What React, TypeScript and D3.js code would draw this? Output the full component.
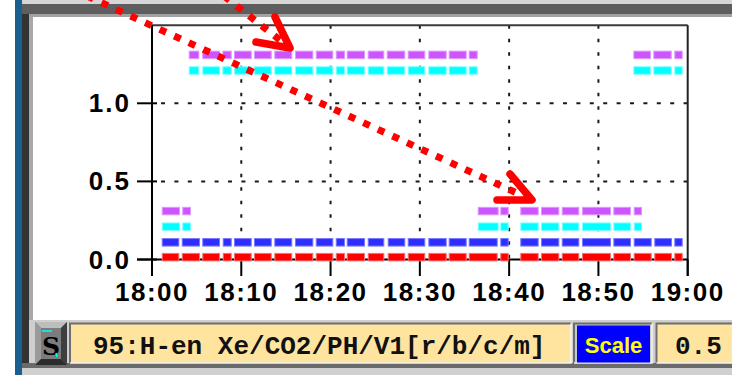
import React from "react";
import * as d3 from "d3";

// Sample intervals (minutes after 18:00) for the base channels (r / b)
const baseIntervals: [number, number][] = [
  [1.09, 3.06], [3.33, 5.38], [5.63, 7.62], [7.92, 8.93], [9.18, 11.17],
  [11.42, 13.41], [13.7, 15.71], [16.02, 18.07], [18.34, 20.31], [20.58, 21.62],
  [21.81, 23.86], [24.16, 26.02], [26.4, 28.37], [28.64, 30.61], [30.95, 33.01],
  [33.23, 35.25], [35.47, 38.72], [39.01, 39.95], [41.25, 43.31], [43.57, 45.62],
  [45.89, 47.86], [48.16, 51.41], [51.67, 53.65], [53.95, 55.97], [56.26, 58.24],
  [58.5, 59.44],
];

// Intervals where the c / m channels sit at their low level
const lowIntervals: [number, number][] = [
  [1.09, 3.14], [3.39, 4.37], [36.48, 38.83], [39.01, 39.95], [41.25, 43.31],
  [43.57, 45.62], [45.89, 47.86], [48.16, 51.41], [51.67, 53.65], [53.95, 54.88],
];

// Intervals where the c / m channels sit at their high level
const highIntervals: [number, number][] = [
  [4.11, 5.3], [5.63, 7.62], [7.88, 8.93], [9.18, 11.17], [11.42, 13.41],
  [13.7, 15.71], [16.02, 18.07], [18.34, 20.31], [20.58, 21.62], [21.81, 23.86],
  [24.16, 26.02], [26.29, 28.37], [28.64, 30.61], [30.95, 33.01], [33.23, 35.25],
  [35.47, 36.48], [53.91, 55.89], [56.15, 58.21], [58.5, 59.44],
];

// Channel levels
const redLevel = 0.015;
const blueLevel = 0.11;
const cyanLevels = [0.21, 1.21];
const magentaLevels = [0.31, 1.31];

const xTickMinutes = [0, 10, 20, 30, 40, 50, 60];
const xTickLabels = ["18:00", "18:10", "18:20", "18:30", "18:40", "18:50", "19:00"];
const yTickValues = [0, 0.5, 1.0];
const yTickLabels = ["0.0", "0.5", "1.0"];

const statusText = "95:H-en Xe/CO2/PH/V1[r/b/c/m]";
const scaleLabel = "Scale";
const scaleValue = "0.5";

const W = 732;
const H = 375;
const PLOT = { left: 152, right: 687.7, top: 25.2, bottom: 259.5 };

type Track = { key: string; fill: string; edge: string; level: number; intervals: [number, number][] };

const tracks: Track[] = [
  { key: "r", fill: "#ff0000", edge: "#ff7070", level: redLevel, intervals: baseIntervals },
  { key: "b", fill: "#2e2eff", edge: "#7878ff", level: blueLevel, intervals: baseIntervals },
  { key: "c-lo", fill: "#00ffff", edge: "#80ffff", level: cyanLevels[0], intervals: lowIntervals },
  { key: "c-hi", fill: "#00ffff", edge: "#80ffff", level: cyanLevels[1], intervals: highIntervals },
  { key: "m-lo", fill: "#cc55ff", edge: "#de99ff", level: magentaLevels[0], intervals: lowIntervals },
  { key: "m-hi", fill: "#cc55ff", edge: "#de99ff", level: magentaLevels[1], intervals: highIntervals },
];

function Arrow({ x0, y0, tip, armA, armB }: { x0: number; y0: number; tip: [number, number]; armA: [number, number]; armB: [number, number] }) {
  const dx = tip[0] - x0;
  const dy = tip[1] - y0;
  const len = Math.hypot(dx, dy);
  const ex = x0 + (dx * (len - 6)) / len;
  const ey = y0 + (dy * (len - 6)) / len;
  return (
    <g>
      <line x1={x0} y1={y0} x2={ex} y2={ey} stroke="#ff0000" strokeWidth={7} strokeDasharray="7 9" />
      <path
        d={`M${armA[0]},${armA[1]} L${tip[0]},${tip[1]} L${armB[0]},${armB[1]}`}
        fill="none"
        stroke="#ff0000"
        strokeWidth={7.5}
        strokeLinecap="round"
        strokeLinejoin="round"
      />
    </g>
  );
}

function Sunken({ x, y, w, h, fill }: { x: number; y: number; w: number; h: number; fill: string }) {
  return (
    <g>
      <rect x={x} y={y} width={w} height={h} fill={fill} />
      <path d={`M${x},${y + h} V${y} H${x + w}`} fill="none" stroke="#6e6e6e" strokeWidth={2} />
      <path d={`M${x},${y + h} H${x + w} V${y}`} fill="none" stroke="#f4f4f4" strokeWidth={1.5} />
    </g>
  );
}

export default function App() {
  const x = d3.scaleLinear().domain([0, 60]).range([PLOT.left, PLOT.right]);
  const y = d3.scaleLinear().domain([0, 1.5]).range([PLOT.bottom, PLOT.top]);
  const barH = 7.5;
  const axisFont = "'Liberation Sans', Arial, sans-serif";
  const monoFont = "'Liberation Mono', 'DejaVu Sans Mono', monospace";

  return (
    <svg width={W} height={H} style={{ position: "absolute", left: 0, top: 0 }}>
      {/* window frame */}
      <rect x={0} y={0} width={W} height={H} fill="#ffffff" />
      <rect x={15} y={0} width={7} height={H} fill="#1b5f8f" />
      <rect x={22} y={0} width={W - 22} height={4} fill="#d6d6d6" />
      <rect x={22} y={4} width={W - 22} height={10} fill="#5e5e5e" />
      <rect x={22} y={14} width={W - 22} height={3} fill="#a2a2a2" />
      <rect x={22} y={14} width={7} height={354} fill="#333333" />
      <rect x={29} y={17} width={4} height={303} fill="#a8a8a8" />
      {/* status bar */}
      <rect x={29} y={320} width={W - 29} height={48} fill="#cfcfcf" />
      <rect x={22} y={363} width={W - 22} height={5} fill="#6a6a6a" />
      <rect x={22} y={368} width={W - 22} height={7} fill="#d0d0d0" />

      {/* plot grid */}
      <g stroke="#1a1a1a" strokeWidth={2}>
        {xTickMinutes.slice(1, -1).map((m) => (
          <line key={`gx${m}`} x1={x(m)} x2={x(m)} y1={PLOT.top} y2={PLOT.bottom} strokeDasharray="3.5 10" />
        ))}
        {yTickValues.slice(1).map((v) => (
          <line key={`gy${v}`} x1={PLOT.left} x2={PLOT.right} y1={y(v)} y2={y(v)} strokeDasharray="4 9.4" strokeDashoffset={-9} />
        ))}
      </g>

      {/* axes and border */}
      <line x1={PLOT.left} x2={PLOT.right} y1={PLOT.top} y2={PLOT.top} stroke="#3a3a3a" strokeWidth={2} />
      <line x1={PLOT.left} x2={PLOT.left} y1={PLOT.top} y2={276} stroke="#000" strokeWidth={2} />
      <line x1={PLOT.right} x2={PLOT.right} y1={PLOT.top} y2={276} stroke="#222" strokeWidth={2} />
      <line x1={137} x2={PLOT.right} y1={PLOT.bottom} y2={PLOT.bottom} stroke="#000" strokeWidth={2} />
      {yTickValues.map((v) => (
        <line key={`ty${v}`} x1={137} x2={157} y1={y(v)} y2={y(v)} stroke="#000" strokeWidth={2} />
      ))}
      {xTickMinutes.map((m) => (
        <line key={`tx${m}`} x1={x(m)} x2={x(m)} y1={PLOT.bottom} y2={276} stroke="#000" strokeWidth={2} />
      ))}

      {/* channel tracks */}
      {tracks.map((t) => (
        <g key={t.key}>
          {t.intervals.map(([a, b], i) => (
            <rect
              key={i}
              x={x(a) + 0.5}
              y={y(t.level) - barH / 2}
              width={Math.max(0, x(b) - x(a) - 1)}
              height={barH}
              fill={t.fill}
              stroke={t.edge}
              strokeWidth={1}
            />
          ))}
        </g>
      ))}

      {/* tick labels */}
      {yTickValues.map((v, i) => (
        <text key={`ly${v}`} x={131} y={y(v) + 9} textAnchor="end" fontFamily={axisFont} fontWeight="bold" fontSize={26} letterSpacing={2} fill="#000">
          {yTickLabels[i]}
        </text>
      ))}
      {xTickMinutes.map((m, i) => (
        <text key={`lx${m}`} x={x(m)} y={301} textAnchor="middle" fontFamily={axisFont} fontWeight="bold" fontSize={26} letterSpacing={1.5} fill="#000">
          {xTickLabels[i]}
        </text>
      ))}

      {/* status controls */}
      <g>
        <rect x={35} y={322} width={32} height={43} fill="#6c6c6c" />
        <polygon points="35,322 67,322 61,328 41,328" fill="#bdbdbd" />
        <polygon points="35,322 41,328 41,359 35,365" fill="#9a9a9a" />
        <polygon points="67,322 67,365 61,359 61,328" fill="#3e3e3e" />
        <polygon points="35,365 67,365 61,359 41,359" fill="#2c2c2c" />
        <rect x={41} y={328} width={20} height={31} fill="#7c7c7c" />
        <text x={51} y={355} textAnchor="middle" fontFamily="'DejaVu Serif', serif" fontWeight="bold" fontSize={25} fill="#000">S</text>
        <line x1={42} x2={52} y1={331} y2={331} stroke="#00ffff" strokeWidth={1.5} />
        <line x1={56} x2={57} y1={353} y2={357} stroke="#00ffff" strokeWidth={1.5} />
      </g>
      <Sunken x={70} y={323.5} w={501} h={39.5} fill="#ffe4a0" />
      <text x={93} y={354} fontFamily={monoFont} fontWeight="bold" fontSize={26} fill="#111">{statusText}</text>
      <Sunken x={574} y={323.5} w={78} h={39.5} fill="#c8c8c8" />
      <rect x={577} y={325.5} width={73} height={37} fill="#0000ff" />
      <text x={613.5} y={353} textAnchor="middle" fontFamily={axisFont} fontWeight="bold" fontSize={22} fill="#ffff00">{scaleLabel}</text>
      <Sunken x={656.5} y={323.5} w={76} h={39.5} fill="#ffe4a0" />
      <text x={675} y={354} fontFamily={monoFont} fontWeight="bold" fontSize={26} fill="#111">{scaleValue}</text>

      {/* annotation arrows */}
      <Arrow x0={87} y0={-4} tip={[532, 200]} armA={[510, 174]} armB={[497, 200]} />
      <Arrow x0={224} y0={-4} tip={[290, 48]} armA={[275, 17]} armB={[256, 42]} />
    </svg>
  );
}
